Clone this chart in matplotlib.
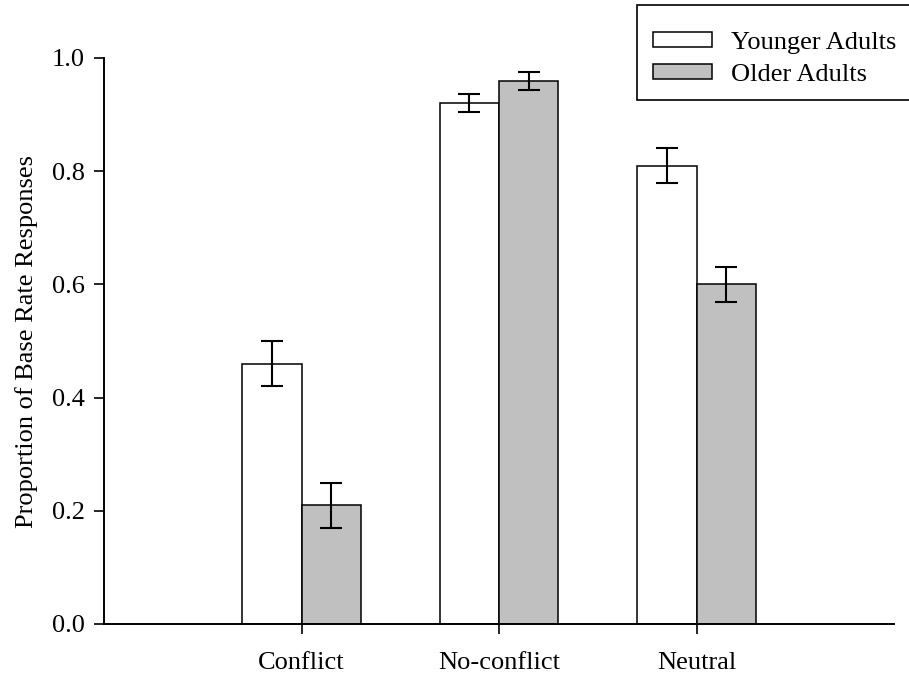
import numpy as np
import matplotlib
matplotlib.use("Agg")
import matplotlib.pyplot as plt
from matplotlib.patches import Rectangle

plt.rcParams['font.family'] = ['Liberation Serif', 'DejaVu Serif']

# proportions of base-rate responses by condition
conditions = ["Conflict", "No-conflict", "Neutral"]
younger = [0.46, 0.92, 0.81]
younger_err = [0.04, 0.016, 0.031]
older = [0.21, 0.96, 0.60]
older_err = [0.04, 0.016, 0.031]

fs = 19
W, H = 909, 674
fig = plt.figure(figsize=(W/100, H/100), dpi=100)
ax = fig.add_axes([104/W, 1-624/H, 790/W, 566/H])

x = np.arange(len(conditions))
w = 0.30
err_kw = dict(ecolor="black", elinewidth=1.5, capsize=8, capthick=1.5)

ax.bar(x - w/2, younger, w, yerr=younger_err, color="white",
       edgecolor="black", linewidth=1.1, error_kw=err_kw, label="Younger Adults")
ax.bar(x + w/2, older, w, yerr=older_err, color="#c0c0c0",
       edgecolor="black", linewidth=1.1, error_kw=err_kw, label="Older Adults")

ax.set_xlim(-1, 3)
ax.set_ylim(0, 1.0)
ax.set_xticks(x)
ax.set_xticklabels(conditions, fontsize=fs)
yt = np.arange(0, 1.01, 0.2)
ax.set_yticks(yt)
ax.set_yticklabels([f"{v:.1f}" for v in yt], fontsize=fs)
ax.set_ylabel("Proportion of Base Rate Responses", fontsize=fs, labelpad=10)

for s in ["top", "right"]:
    ax.spines[s].set_visible(False)
for s in ["left", "bottom"]:
    ax.spines[s].set_linewidth(1.4)
ax.tick_params(axis="both", direction="out", length=7, width=1.2)
ax.tick_params(axis="x", pad=13)
ax.tick_params(axis="y", pad=7)

# legend box runs off the right edge of the figure
fig.add_artist(Rectangle((637/W, 1-100/H), 290/W, 95/H,
                         transform=fig.transFigure, facecolor="white",
                         edgecolor="black", linewidth=1.2, clip_on=False))
fig.legend(loc="center left", bbox_to_anchor=(653/W, 1-59/H),
           fontsize=fs, frameon=False, borderpad=0, borderaxespad=0,
           handlelength=2.25, handleheight=0.5,
           handletextpad=0.7, labelspacing=0.4)

fig.savefig("out.png", dpi=100)
